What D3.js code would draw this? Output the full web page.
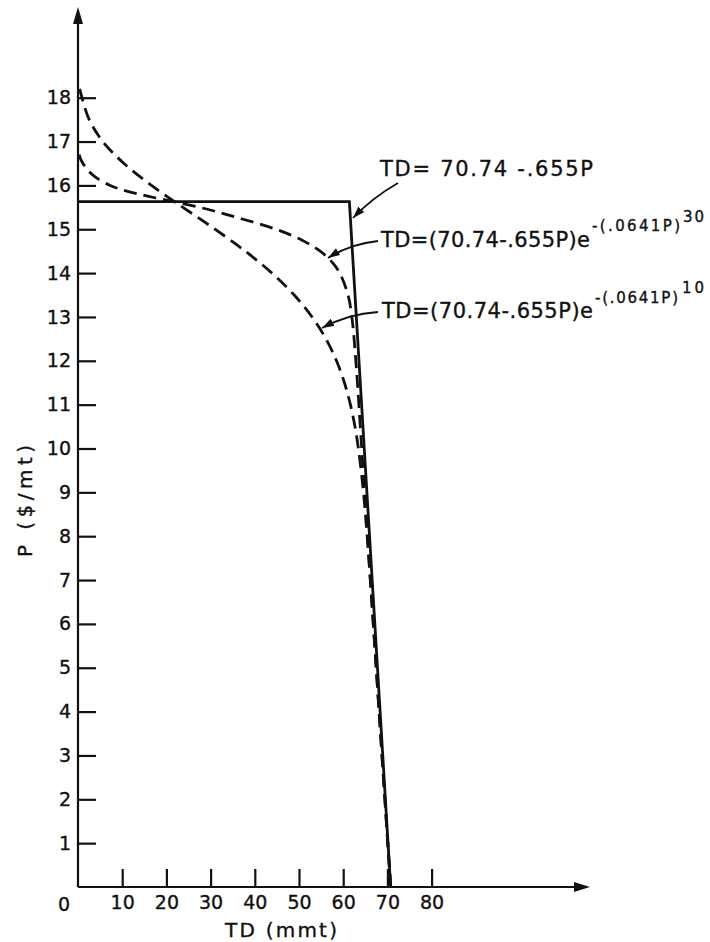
<!DOCTYPE html>
<html>
<meta charset="utf-8">
<head>
<style>
body { margin:0; padding:0; background:#fff; }
svg { display:block; }
text { font-family: "DejaVu Sans", "Liberation Sans", Arial, sans-serif; fill:#111; stroke:#111; stroke-width:0.35px; }
.tick line { stroke:#111; stroke-width:2.2; }
</style>
</head>
<body>
<svg id="chart"></svg>
<script src="https://d3js.org/d3.v7.min.js"></script>
<script>

// tick values
var tdTicks = [10, 20, 30, 40, 50, 60, 70, 80];
var pTicks = [1, 2, 3, 4, 5, 6, 7, 8, 9, 10, 11, 12, 13, 14, 15, 16, 17, 18];

// TD = 70.74 - .655P, capped at P = 15.63
var solidP  = [15.63, 15.63, 0];
var solidTD = [0, 61.4, 70.74];

// TD = (70.74-.655P) e^-(.0641P)^30
var p30  = [0, 4, 8, 10, 12, 13, 13.5, 14, 14.25, 14.5, 14.75, 15, 15.25, 15.5, 15.75, 15.9, 16.0, 16.2, 16.4, 16.6, 16.8];
var td30 = [70.74, 68.12, 65.5, 64.19, 62.86, 61.96, 61.09, 59.22, 57.48, 54.79, 50.71, 44.77, 36.64, 27.5, 16.0, 10.0, 7.3, 3.8, 1.8, 0.6, 0];

// TD = (70.74-.655P) e^-(.0641P)^10
var p10  = [0, 4, 6, 8, 9, 10, 10.5, 11, 11.5, 12, 12.5, 13, 13.5, 14, 14.5, 15, 15.5, 16, 16.5, 17, 17.5, 18, 18.35];
var td10 = [70.74, 68.12, 66.81, 65.42, 64.58, 63.44, 62.66, 61.63, 60.28, 58.48, 56.09, 52.95, 48.91, 43.88, 37.85, 31.01, 23.73, 16.63, 10.4, 5.62, 2.53, 0.9, 0];

var width = 710, height = 942;

var svg = d3.select("#chart")
  .attr("width", width)
  .attr("height", height);

var x = d3.scaleLinear().domain([0, 80]).range([78, 431.6]);
var y = d3.scaleLinear().domain([0, 18]).range([887, 97.7]);

var defs = svg.append("defs");
defs.append("marker")
    .attr("id", "head")
    .attr("viewBox", "0 0 12 8")
    .attr("refX", 12).attr("refY", 4)
    .attr("markerWidth", 12).attr("markerHeight", 8)
    .attr("markerUnits", "userSpaceOnUse")
    .attr("orient", "auto")
  .append("path")
    .attr("d", "M0,0 L12,4 L0,8 Z")
    .attr("fill", "#111");

// axes lines with arrows
svg.append("line")
    .attr("x1", x(0)).attr("y1", y(0)).attr("x2", x(0)).attr("y2", 22)
    .attr("stroke", "#111").attr("stroke-width", 2.2);
svg.append("path")
    .attr("d", "M" + (x(0) - 5) + ",24 L" + x(0) + ",7 L" + (x(0) + 5) + ",24 Z")
    .attr("fill", "#111");
svg.append("line")
    .attr("x1", x(0)).attr("y1", y(0)).attr("x2", 576).attr("y2", y(0))
    .attr("stroke", "#111").attr("stroke-width", 2.2);
svg.append("path")
    .attr("d", "M574," + (y(0) - 5) + " L590," + y(0) + " L574," + (y(0) + 5) + " Z")
    .attr("fill", "#111");

var yAxis = svg.append("g")
    .attr("transform", "translate(" + x(0) + ",0)")
    .call(d3.axisLeft(y).tickValues(pTicks).tickSizeInner(-18).tickSizeOuter(0).tickPadding(7));
yAxis.select(".domain").remove();
yAxis.selectAll("text").attr("font-size", 19).attr("font-family", null).attr("fill", "#111");

var xAxis = svg.append("g")
    .attr("transform", "translate(0," + y(0) + ")")
    .call(d3.axisBottom(x).tickValues(tdTicks).tickSizeInner(-18).tickSizeOuter(0).tickPadding(9));
xAxis.select(".domain").remove();
xAxis.selectAll("text").attr("font-size", 19).attr("font-family", null).attr("fill", "#111");

svg.append("text")
    .attr("x", 64).attr("y", 911)
    .attr("text-anchor", "middle")
    .attr("font-size", 19)
    .text("0");

// axis titles
svg.append("text")
    .attr("x", 225).attr("y", 937)
    .attr("font-size", 20)
    .attr("textLength", 112).attr("lengthAdjust", "spacing")
    .text("TD (mmt)");

svg.append("text")
    .attr("transform", "translate(32,557) rotate(-90)")
    .attr("font-size", 20)
    .attr("textLength", 112).attr("lengthAdjust", "spacing")
    .text("P ($/mt)");

// curves
var line = d3.line()
    .x(function(d) { return x(d[1]); })
    .y(function(d) { return y(d[0]); });

svg.append("path")
    .datum(d3.zip(solidP, solidTD))
    .attr("d", line)
    .attr("fill", "none")
    .attr("stroke", "#111")
    .attr("stroke-width", 2.8);

var smooth = d3.line()
    .x(function(d) { return x(d[1]); })
    .y(function(d) { return y(d[0]); })
    .curve(d3.curveCatmullRom.alpha(0.5));

[[p30, td30], [p10, td10]].forEach(function(s) {
  svg.append("path")
      .datum(d3.zip(s[0], s[1]))
      .attr("d", smooth)
      .attr("fill", "none")
      .attr("stroke", "#111")
      .attr("stroke-width", 2.8)
      .attr("stroke-dasharray", "13,7");
});

// annotations
function arrow(x1, y1, cx, cy, x2, y2) {
  svg.append("path")
      .attr("d", "M" + x1 + "," + y1 + " Q" + cx + "," + cy + " " + x2 + "," + y2)
      .attr("fill", "none")
      .attr("stroke", "#111")
      .attr("stroke-width", 1.8)
      .attr("marker-end", "url(#head)");
}

function label(tx, ty, str, size, len) {
  svg.append("text")
      .attr("x", tx).attr("y", ty)
      .attr("font-size", size)
      .attr("textLength", len).attr("lengthAdjust", "spacing")
      .text(str);
}

arrow(398, 183, 372, 198, 353, 218);
label(380, 176, "TD= 70.74 -.655P", 21, 213);

arrow(378, 241, 350, 244, 328, 258);
label(381, 247, "TD=(70.74-.655P)e", 21, 209);
label(592, 231, "-(.0641P)", 15, 88);
label(683, 222, "30", 15, 21);

arrow(378, 312, 348, 314, 322, 328);
label(382, 318, "TD=(70.74-.655P)e", 21, 211);
label(595, 303, "-(.0641P)", 15, 83);
label(682, 293, "10", 15, 22);

</script>
</body>
</html>
